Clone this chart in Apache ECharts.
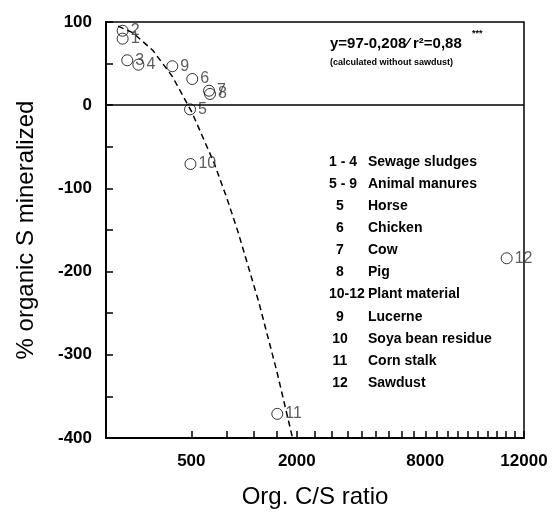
<!DOCTYPE html>
<html>
<head>
<meta charset="utf-8">
<title>Organic S mineralized vs C/S ratio</title>
<script src="https://cdn.jsdelivr.net/npm/echarts@6.0.0/dist/echarts.min.js"></script>
<style>
    html, body { margin: 0; padding: 0; background: #fff; }
    #chart { width: 554px; height: 514px; }
</style>
</head>
<body>
<div id="chart"></div>
<script>
// measured points (org. C/S ratio, % organic S mineralized)
var pointIds = ['1', '2', '3', '4', '5', '6', '7', '8', '9', '10', '11', '12'];
var csRatio = [19, 19, 31, 72, 485, 511, 729, 743, 302, 490, 2015, 11025];
var sMineralized = [80, 89.5, 54, 48.7, -5, 31.5, 17.4, 13.5, 46.8, -70.7, -371, -184];

// dashed fit curve
var fitX = [10, 50, 150, 300, 500, 800, 1000, 1200, 1600, 2000, 2390];
var fitY = [95, 87, 66, 35, -7, -69, -111, -153, -236, -319, -400];

// x axis: ticks every 500, labels as printed
var xTicks = [500, 1000, 1500, 2000, 2500, 3000, 3500, 4000, 4500, 5000, 5500, 6000,
    6500, 7000, 7500, 8000, 8500, 9000, 9500, 10000, 10500, 11000, 11500, 12000];
var xLabelAt = [500, 2500, 7000, 12000];
var xLabelText = ['500', '2000', '8000', '12000'];

var legendCodes = ['1 - 4', '5 - 9', '5', '6', '7', '8', '10-12', '9', '10', '11', '12'];
var legendNames = ['Sewage sludges', 'Animal manures', 'Horse', 'Chicken', 'Cow', 'Pig',
    'Plant material', 'Lucerne', 'Soya bean residue', 'Corn stalk', 'Sawdust'];

var FONT = '"Liberation Sans", Arial, sans-serif';

// the x axis is drawn on a square-root scale
function sx(v) {
    return Math.sqrt(v);
}

var points = [];
for (var i = 0; i < pointIds.length; i++) {
    points.push([sx(csRatio[i]), sMineralized[i], pointIds[i]]);
}
var fitLine = [];
for (var j = 0; j < fitX.length; j++) {
    fitLine.push([sx(fitX[j]), fitY[j]]);
}

var graphics = [{
    type: 'text', left: 330, top: 36,
    style: {text: 'y=97-0,208\u2044 r\u00b2=0,88', font: 'bold 15px ' + FONT, fill: '#000'}
}, {
    type: 'text', left: 472, top: 29,
    style: {text: '***', font: 'bold 9px ' + FONT, fill: '#000'}
}, {
    type: 'text', left: 330, top: 58,
    style: {text: '(calculated without sawdust)', font: 'bold 9px ' + FONT, fill: '#000'}
}];
for (var k = 0; k < legendCodes.length; k++) {
    var rowY = 162 + k * 22.1;
    var isRange = legendCodes[k].indexOf('-') >= 0;
    graphics.push({
        type: 'text',
        x: isRange ? 329 : 340,
        y: rowY,
        style: {
            text: legendCodes[k], font: 'bold 14px ' + FONT, fill: '#000',
            align: isRange ? 'left' : 'center', verticalAlign: 'middle'
        }
    });
    graphics.push({
        type: 'text', x: 368, y: rowY,
        style: {
            text: legendNames[k], font: 'bold 14px ' + FONT, fill: '#000',
            align: 'left', verticalAlign: 'middle'
        }
    });
}

var option = {
    backgroundColor: '#fff',
    animation: false,
    textStyle: {fontFamily: FONT},
    grid: {
        left: 106,
        right: 30,
        top: 22,
        bottom: 76,
        show: true,
        borderColor: '#000',
        borderWidth: 1.5
    },
    xAxis: {
        type: 'value',
        min: 0,
        max: sx(12000),
        name: 'Org. C/S ratio',
        nameLocation: 'middle',
        nameGap: 47,
        nameTextStyle: {fontSize: 24, color: '#000', fontFamily: FONT},
        axisLine: {onZero: false, lineStyle: {color: '#000', width: 2}},
        axisTick: {
            inside: true,
            length: 7,
            customValues: xTicks.map(sx),
            lineStyle: {color: '#000', width: 1.5}
        },
        axisLabel: {
            customValues: xLabelAt.map(sx),
            margin: 15,
            fontSize: 17,
            fontWeight: 'bold',
            color: '#000',
            formatter: function (v) {
                for (var n = 0; n < xLabelAt.length; n++) {
                    if (Math.abs(sx(xLabelAt[n]) - v) < 1e-6) {
                        return xLabelText[n];
                    }
                }
                return '';
            }
        },
        splitLine: {show: false}
    },
    yAxis: {
        type: 'value',
        min: -400,
        max: 100,
        interval: 50,
        name: '% organic S mineralized',
        nameLocation: 'middle',
        nameGap: 68,
        nameTextStyle: {fontSize: 24, color: '#000', fontFamily: FONT},
        axisLine: {onZero: false, lineStyle: {color: '#000', width: 2}},
        axisTick: {inside: true, length: 7, lineStyle: {color: '#000', width: 1.5}},
        axisLabel: {
            margin: 14,
            fontSize: 17,
            fontWeight: 'bold',
            color: '#000',
            formatter: function (v) {
                return v % 100 === 0 ? String(v) : '';
            }
        },
        splitLine: {show: false}
    },
    series: [{
        type: 'line',
        data: fitLine,
        showSymbol: false,
        silent: true,
        lineStyle: {color: '#000', width: 1.5, type: [6, 4]},
        z: 3
    }, {
        type: 'scatter',
        data: points,
        symbol: 'circle',
        symbolSize: 11,
        itemStyle: {color: 'rgba(0,0,0,0)', borderColor: '#000', borderWidth: 1},
        label: {
            show: true,
            position: 'right',
            distance: 2,
            fontSize: 16,
            color: '#333',
            formatter: function (p) {
                return p.data[2];
            }
        },
        markLine: {
            silent: true,
            symbol: 'none',
            label: {show: false},
            lineStyle: {color: '#000', type: 'solid', width: 1.5},
            data: [{yAxis: 0}]
        },
        z: 4
    }],
    graphic: graphics
};

var chart = echarts.init(document.getElementById('chart'));
chart.setOption(option);
</script>
</body>
</html>
